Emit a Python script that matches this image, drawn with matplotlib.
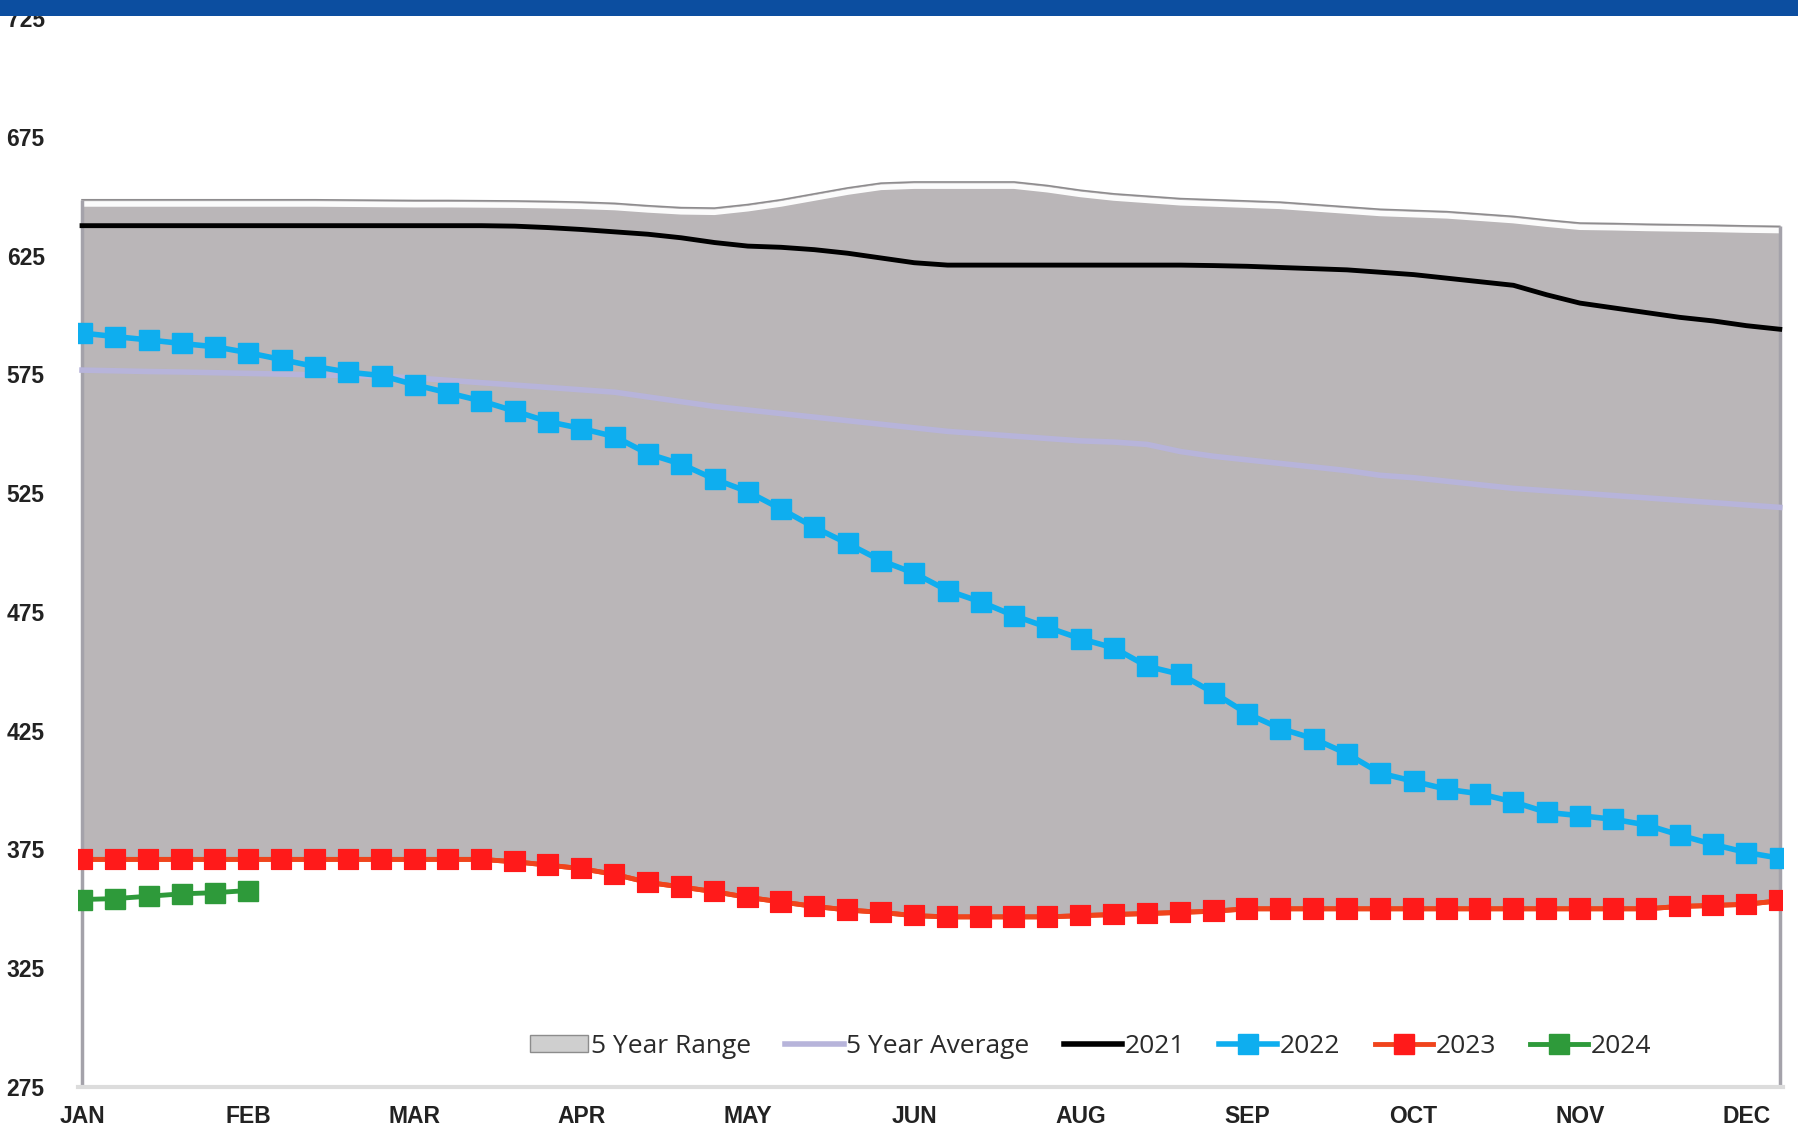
import numpy as np
import matplotlib
matplotlib.use("Agg")
import matplotlib.pyplot as plt
from matplotlib.lines import Line2D
from matplotlib.patches import Patch, Rectangle
import matplotlib.patheffects as pe

# weekly storage, 52 weeks
month_labels = ["JAN", "FEB", "MAR", "APR", "MAY", "JUN", "AUG", "SEP", "OCT", "NOV", "DEC"]
yticks = [275, 325, 375, 425, 475, 525, 575, 625, 675, 725]

range_high = [648.5, 648.5, 648.5, 648.5, 648.5, 648.5, 648.5, 648.5, 648.4, 648.3,
              648.2, 648.2, 648.1, 648.0, 647.8, 647.5, 647.0, 646.0, 645.2, 645.0,
              646.5, 648.5, 651.0, 653.5, 655.5, 656.0, 656.0, 656.0, 656.0, 654.5,
              652.5, 651.0, 650.0, 649.0, 648.5, 648.0, 647.5, 646.5, 645.5, 644.5,
              644.0, 643.5, 642.5, 641.5, 640.0, 638.7, 638.5, 638.2, 638.0, 637.8,
              637.5, 637.3]

avg5 = [576.8, 576.5, 576.2, 576.0, 575.7, 575.4, 575.1, 574.8, 574.5, 574.2,
        573.5, 572.5, 571.5, 570.5, 569.5, 568.5, 567.5, 565.5, 563.5, 561.5,
        560.0, 558.5, 557.0, 555.5, 554.0, 552.5, 551.0, 550.0, 549.0, 548.0,
        547.0, 546.5, 545.5, 542.5, 540.5, 539.0, 537.5, 536.0, 534.5, 532.5,
        531.5, 530.0, 528.5, 527.0, 526.0, 525.0, 524.0, 523.0, 522.0, 521.0,
        520.0, 519.0]

y2021 = [637.6, 637.6, 637.6, 637.6, 637.6, 637.6, 637.6, 637.6, 637.6, 637.6,
         637.6, 637.6, 637.6, 637.4, 636.8, 636.0, 635.0, 634.0, 632.5, 630.5,
         629.0, 628.5, 627.5, 626.0, 624.0, 622.0, 621.0, 621.0, 621.0, 621.0,
         621.0, 621.0, 621.0, 621.0, 620.8, 620.5, 620.0, 619.5, 619.0, 618.0,
         617.0, 615.5, 614.0, 612.5, 608.5, 605.0, 603.0, 601.0, 599.0, 597.5,
         595.5, 594.0]

y2022 = [592.4, 590.9, 589.5, 588.0, 586.6, 584.1, 581.2, 578.3, 575.9, 574.5,
         570.6, 567.2, 563.8, 559.5, 555.1, 552.2, 548.8, 541.6, 537.2, 530.9,
         525.6, 518.3, 510.6, 503.8, 496.6, 491.3, 484.0, 479.2, 473.4, 468.5,
         463.7, 459.8, 452.1, 448.7, 440.9, 432.2, 425.9, 421.6, 415.3, 407.1,
         403.7, 400.3, 398.4, 395.0, 390.6, 389.2, 387.7, 385.3, 381.0, 377.1,
         373.7, 371.3]

y2023 = [370.8, 370.8, 370.8, 370.8, 370.8, 370.8, 370.8, 370.8, 370.8, 370.8,
         370.8, 370.8, 370.8, 369.8, 368.4, 366.9, 364.5, 361.1, 359.2, 357.2,
         354.8, 352.9, 351.0, 349.5, 348.5, 347.1, 346.6, 346.6, 346.6, 346.6,
         347.1, 347.6, 348.0, 348.5, 349.0, 350.0, 350.0, 350.0, 350.0, 350.0,
         350.0, 350.0, 350.0, 350.0, 350.0, 350.0, 350.0, 350.0, 351.0, 351.4,
         351.9, 353.4]

y2024 = [353.9, 354.3, 355.3, 356.3, 356.8, 357.7]

# lower edge of the 5 year range follows the 2023 line
range_low = y2023

weeks = np.arange(len(range_high))

fig = plt.figure(figsize=(17.98, 11.30), dpi=100)
ax = fig.add_axes([0.0434, 0.0381, 0.9483, 0.9459])

ax.fill_between(weeks, range_low, range_high, color="#bab6b8", lw=0, zorder=1)
# bevel look on top edge
ax.plot(weeks, range_high, color="#8e8c8e", lw=1.2, zorder=2,
        path_effects=[pe.SimpleLineShadow(offset=(0, -3), shadow_color="white",
                                          alpha=0.95, linewidth=4), pe.Normal()])
ax.vlines([weeks[0], weeks[-1]], yticks[0], [range_high[0], range_high[-1]],
          color="#a4a2aa", lw=2.5, zorder=2)

ax.plot(weeks, avg5, color="#b7b4da", lw=4, zorder=3)
ax.plot(weeks, y2021, color="black", lw=3.5, zorder=3)
ax.plot(weeks, y2022, color="#0eaeef", lw=4, marker="s", ms=15, zorder=4)
ax.plot(weeks, y2023, color="#f0441c", lw=3.5, marker="s", ms=14,
        mfc="#ff1a1a", mec="#ff1a1a", mew=1.5, zorder=4,
        path_effects=[pe.Stroke(joinstyle="round"), pe.Normal()])
ax.plot(weeks[:len(y2024)], y2024, color="#2e9a3a", lw=3.5, marker="s", ms=14, zorder=4)

ax.set_xlim(-0.12, 51.1)
ax.set_ylim(275, 725)
ax.set_yticks(yticks)
ax.set_xticks(np.arange(0, 5 * len(month_labels), 5))
ax.set_xticklabels(month_labels)
ax.tick_params(axis="y", length=0, pad=24, labelsize=16.5, labelcolor="#222222")
ax.tick_params(axis="x", length=0, pad=13, labelsize=16.5, labelcolor="#222222")
for lab in ax.get_xticklabels() + ax.get_yticklabels():
    lab.set_fontweight("bold")
    lab.set_fontfamily("Liberation Sans")

for s in ["top", "right", "left"]:
    ax.spines[s].set_visible(False)
ax.spines["bottom"].set_color("#dcdcdc")
ax.spines["bottom"].set_linewidth(3)

handles = [
    Patch(facecolor="#cfcfcf", edgecolor="#8c8c8c", label="5 Year Range"),
    Line2D([], [], color="#b7b4da", lw=4, label="5 Year Average"),
    Line2D([], [], color="black", lw=4, label="2021"),
    Line2D([], [], color="#0eaeef", lw=4, marker="s", ms=14, label="2022"),
    Line2D([], [], color="#f0441c", lw=3.5, marker="s", ms=14,
           mfc="#ff1a1a", mec="#ff1a1a", label="2023"),
    Line2D([], [], color="#2e9a3a", lw=3.5, marker="s", ms=14, label="2024"),
]
leg = ax.legend(handles=handles, loc="center", bbox_to_anchor=(0.594, 0.038),
                ncol=6, frameon=False, handlelength=2.2, handleheight=0.6,
                handletextpad=0.1, columnspacing=1.3,
                prop={"family": "Open Sans", "size": 19})
for t in leg.get_texts():
    t.set_color("#2a2a2a")

# blue band across the top of the slide
fig.patches.append(Rectangle((0, 1 - 16 / 1130), 1, 16 / 1130, transform=fig.transFigure,
                             facecolor="#0c4ea0", edgecolor="none", zorder=10))

fig.savefig("out.png", dpi=100)
